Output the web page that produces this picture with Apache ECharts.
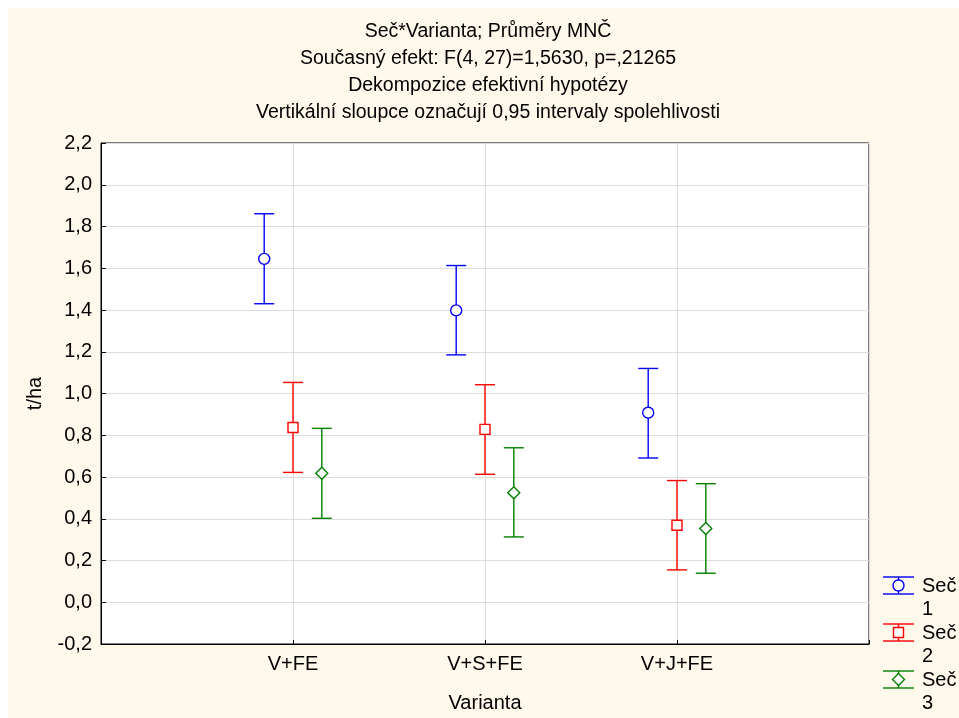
<!DOCTYPE html>
<html>
<head>
<meta charset="utf-8">
<script src="https://cdn.jsdelivr.net/npm/echarts@6/dist/echarts.min.js"></script>
<style>
  html, body { margin: 0; padding: 0; background: #ffffff; }
  #chart { position: absolute; left: 8px; top: 8px; width: 951px; height: 710px; }
</style>
</head>
<body>
<div id="chart"></div>
<script>
// Categories on the x axis
const categories = ['V+FE', 'V+S+FE', 'V+J+FE'];

// Least-squares means with 0.95 confidence limits (t/ha)
const sec1Mean = [1.645, 1.398, 0.908];
const sec1Low  = [1.430, 1.185, 0.691];
const sec1High = [1.861, 1.613, 1.120];

const sec2Mean = [0.837, 0.828, 0.369];
const sec2Low  = [0.622, 0.613, 0.155];
const sec2High = [1.053, 1.042, 0.583];

const sec3Mean = [0.618, 0.525, 0.353];
const sec3Low  = [0.402, 0.313, 0.139];
const sec3High = [0.833, 0.740, 0.568];

// Y axis tick range
const yMin = -0.2, yMax = 2.2, yStep = 0.2;

const groups = [
  { name: 'Seč 1', mean: sec1Mean, low: sec1Low, high: sec1High, color: '#0000ff', marker: 'circle',  offset: -0.15 },
  { name: 'Seč 2', mean: sec2Mean, low: sec2Low, high: sec2High, color: '#ff0000', marker: 'square',  offset: 0 },
  { name: 'Seč 3', mean: sec3Mean, low: sec3Low, high: sec3High, color: '#008000', marker: 'diamond', offset: 0.15 }
];

const FONT = '"Liberation Sans", Arial, sans-serif';
const FS = 20;
const CAP = 10; // half-width of whisker caps in px

function markerShape(kind, cx, cy, color) {
  const style = { fill: '#ffffff', stroke: color, lineWidth: 1.4 };
  if (kind === 'circle') return { type: 'circle', shape: { cx: cx, cy: cy, r: 5.5 }, style: style };
  if (kind === 'square') return { type: 'rect', shape: { x: cx - 5, y: cy - 5, width: 10, height: 10 }, style: style };
  return { type: 'polygon', shape: { points: [[cx, cy - 6], [cx + 6, cy], [cx, cy + 6], [cx - 6, cy]] }, style: style };
}

function errorBarGlyph(cx, top, bottom, mid, g, cap) {
  const ls = { stroke: g.color, lineWidth: 1.4 };
  return [
    { type: 'line', shape: { x1: cx, y1: top, x2: cx, y2: bottom }, style: ls },
    { type: 'line', shape: { x1: cx - cap, y1: top, x2: cx + cap, y2: top }, style: ls },
    { type: 'line', shape: { x1: cx - cap, y1: bottom, x2: cx + cap, y2: bottom }, style: ls },
    markerShape(g.marker, cx, mid, g.color)
  ];
}

const series = groups.map(function (g) {
  const data = categories.map(function (c, i) { return [i + 1, g.mean[i], g.low[i], g.high[i]]; });
  return {
    name: g.name,
    type: 'custom',
    data: data,
    encode: { x: 0, y: [1, 2, 3] },
    renderItem: function (params, api) {
      const x = api.value(0) + g.offset;
      const pHigh = api.coord([x, api.value(3)]);
      const pLow = api.coord([x, api.value(2)]);
      const pMid = api.coord([x, api.value(1)]);
      return { type: 'group', children: errorBarGlyph(pMid[0], pHigh[1], pLow[1], pMid[1], g, CAP) };
    },
    z: 5
  };
});

// Legend drawn as whisker glyphs with two-line labels
const legendGraphics = [];
groups.forEach(function (g, i) {
  const top = 569 + i * 47;
  const bottom = top + 17;
  errorBarGlyph(890.5, top, bottom, (top + bottom) / 2, g, 15.5).forEach(function (el) { legendGraphics.push(el); });
  const parts = g.name.split(' ');
  legendGraphics.push({
    type: 'text', left: 914, top: top - 2,
    style: { text: parts[0] + '\n' + parts[1], font: FS + 'px ' + FONT, fill: '#000', lineHeight: 23 }
  });
});

const chart = echarts.init(document.getElementById('chart'), null, { renderer: 'canvas' });
chart.setOption({
  backgroundColor: '#fff9ec',
  animation: false,
  title: {
    text: 'Seč*Varianta; Průměry MNČ\nSoučasný efekt: F(4, 27)=1,5630, p=,21265\nDekompozice efektivní hypotézy\nVertikální sloupce označují 0,95 intervaly spolehlivosti',
    left: 475, top: 5, textAlign: 'center',
    textStyle: { fontFamily: FONT, fontSize: 19.5, fontWeight: 'normal', color: '#000', lineHeight: 27 }
  },
  grid: {
    left: 93, top: 135, width: 768, height: 502,
    show: true, backgroundColor: '#ffffff', borderColor: '#000', borderWidth: 1
  },
  xAxis: {
    type: 'value', min: 0, max: 4, interval: 1,
    name: 'Varianta', nameLocation: 'middle', nameGap: 49,
    nameTextStyle: { fontFamily: FONT, fontSize: FS, color: '#000' },
    axisLine: { show: true, onZero: false, lineStyle: { color: '#000' } },
    axisTick: { show: true, inside: true, length: 4, lineStyle: { color: '#000' } },
    axisLabel: {
      fontFamily: FONT, fontSize: FS, color: '#000', margin: 10,
      formatter: function (v) { return (v >= 1 && v <= categories.length) ? categories[v - 1] : ''; }
    },
    splitLine: { show: true, lineStyle: { color: '#dcdcdc', width: 1 } }
  },
  yAxis: {
    type: 'value', min: yMin, max: yMax, interval: yStep,
    name: 't/ha', nameLocation: 'middle', nameGap: 56, nameRotate: 90,
    nameTextStyle: { fontFamily: FONT, fontSize: FS, color: '#000' },
    axisLine: { show: true, onZero: false, lineStyle: { color: '#000' } },
    axisTick: { show: true, inside: true, length: 5, lineStyle: { color: '#000' } },
    axisLabel: {
      fontFamily: FONT, fontSize: FS, color: '#000', margin: 9,
      formatter: function (v) { return v.toFixed(1).replace('.', ','); }
    },
    splitLine: { show: true, lineStyle: { color: '#dcdcdc', width: 1 } }
  },
  graphic: legendGraphics,
  series: series
});
</script>
</body>
</html>
